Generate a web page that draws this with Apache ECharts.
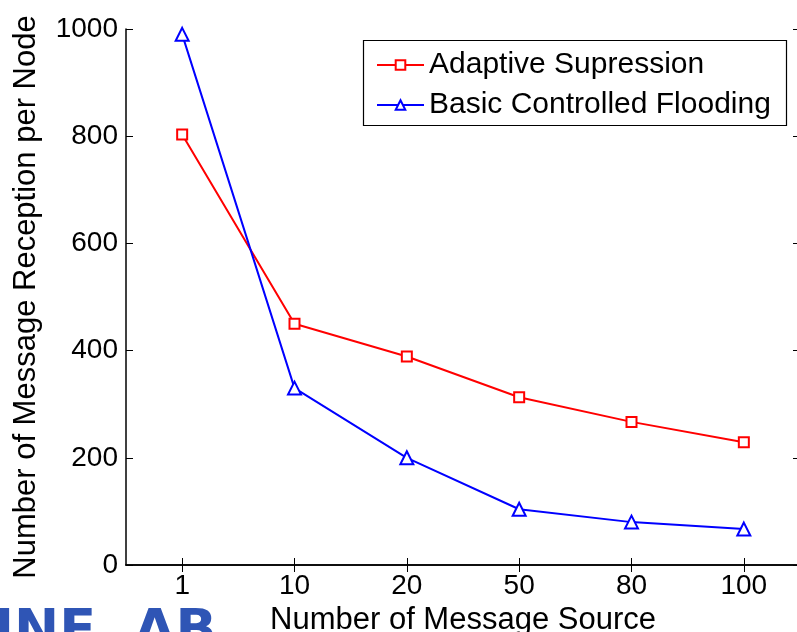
<!DOCTYPE html>
<html>
<head>
<meta charset="utf-8">
<script src="https://cdn.jsdelivr.net/npm/echarts@6/dist/echarts.min.js"></script>
<style>
  html, body { margin: 0; padding: 0; background: #fff; }
  #chart { width: 797px; height: 632px; }
</style>
</head>
<body>
<div id="chart"></div>
<script>
// data
const sources = ['1', '10', '20', '50', '80', '100']
const adaptive = [803, 450, 389, 313, 267, 229]
const basic = [990, 330, 200, 104, 80, 67]
const yTicks = [0, 200, 400, 600, 800, 1000]

const font = 'Liberation Sans, Arial, sans-serif'
const chart = echarts.init(document.getElementById('chart'))

const tickStyle = { show: true, inside: true, length: 7, lineStyle: { color: '#000', width: 1 } }

chart.setOption({
  animation: false,
  backgroundColor: '#fff',
  grid: { left: 126, top: 29, width: 674, height: 536, show: false, outerBoundsMode: 'none', containLabel: false },
  legend: {
    orient: 'vertical',
    left: 371,
    top: 44,
    itemWidth: 47,
    itemHeight: 12,
    itemGap: 8,
    textStyle: { fontFamily: font, fontSize: 30, color: '#000', lineHeight: 32 },
    data: ['Adaptive Supression', 'Basic Controlled Flooding']
  },
  graphic: [
    {
      type: 'rect',
      shape: { x: 363.5, y: 40.5, width: 423, height: 85 },
      style: { fill: 'none', stroke: '#000', lineWidth: 1.2 },
      z: 1
    },
    {
      type: 'text',
      left: -6,
      top: 606,
      style: {
        text: 'INE  AB',
        font: 'bold 54px DejaVu Sans',
        fill: '#2f55b5'
      }
    }
  ],
  xAxis: [
    {
      type: 'category',
      data: sources,
      position: 'bottom',
      name: 'Number of Message Source',
      nameLocation: 'middle',
      nameGap: 38,
      nameTextStyle: { fontFamily: font, fontSize: 31, color: '#000' },
      axisLine: { lineStyle: { color: '#000', width: 1.5 } },
      axisTick: { ...tickStyle, alignWithLabel: true },
      axisLabel: { fontFamily: font, fontSize: 28, color: '#000', margin: 7 }
    },
    {
      type: 'category',
      data: sources,
      position: 'top',
      axisLine: { lineStyle: { color: '#000', width: 1.5 } },
      axisTick: { ...tickStyle, alignWithLabel: true },
      axisLabel: { show: false }
    }
  ],
  yAxis: [
    {
      type: 'value',
      min: 0,
      max: 1000,
      interval: 200,
      position: 'left',
      name: 'Number of Message Reception per Node',
      nameLocation: 'middle',
      nameGap: 84,
      nameTextStyle: { fontFamily: font, fontSize: 31, color: '#000' },
      axisLine: { show: true, lineStyle: { color: '#000', width: 1.5 } },
      axisTick: tickStyle,
      splitLine: { show: false },
      axisLabel: {
        fontFamily: font, fontSize: 28, color: '#000', margin: 8,
        formatter: v => (yTicks.includes(v) ? String(v) : '')
      }
    },
    {
      type: 'value',
      min: 0,
      max: 1000,
      interval: 200,
      position: 'right',
      axisLine: { show: true, lineStyle: { color: '#000', width: 1.5 } },
      axisTick: tickStyle,
      splitLine: { show: false },
      axisLabel: { show: false }
    }
  ],
  series: [
    {
      name: 'Adaptive Supression',
      type: 'line',
      data: adaptive,
      symbol: 'rect',
      symbolSize: 10,
      itemStyle: { color: '#fff', borderColor: '#ff0000', borderWidth: 2 },
      lineStyle: { color: '#ff0000', width: 2 },
      z: 3
    },
    {
      name: 'Basic Controlled Flooding',
      type: 'line',
      data: basic,
      symbol: 'triangle',
      symbolSize: 13,
      itemStyle: { color: '#fff', borderColor: '#0000ff', borderWidth: 2 },
      lineStyle: { color: '#0000ff', width: 2 },
      z: 3
    }
  ]
})
</script>
</body>
</html>
